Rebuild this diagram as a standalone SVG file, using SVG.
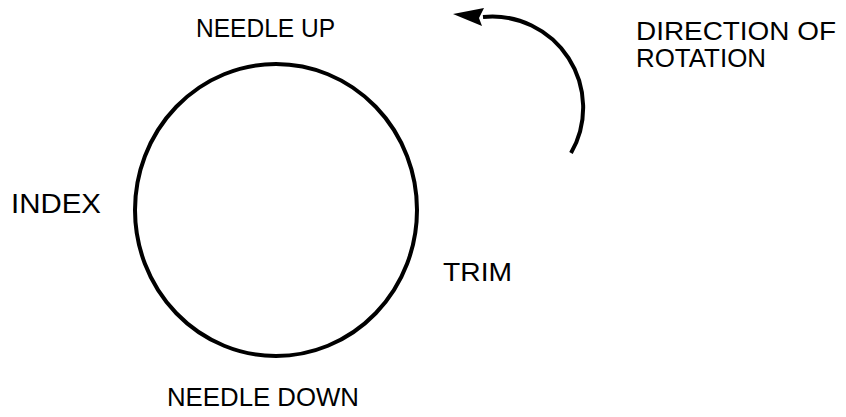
<svg xmlns="http://www.w3.org/2000/svg" width="846" height="417" viewBox="0 0 846 417">
<style>
text{font-family:"Liberation Sans",Arial,sans-serif;font-size:25px;fill:#000}
.ln{fill:none;stroke:#000;stroke-width:4}
</style>
<rect width="846" height="417" fill="#fff"/>
<g id="dial"><ellipse class="ln" cx="276" cy="210" rx="141" ry="146"/></g>
<g id="labels">
<text x="196" y="37" textLength="139" lengthAdjust="spacingAndGlyphs">NEEDLE UP</text>
<text x="636" y="40" textLength="200" lengthAdjust="spacingAndGlyphs">DIRECTION OF</text>
<text x="636" y="67" textLength="130" lengthAdjust="spacingAndGlyphs">ROTATION</text>
<text x="11" y="213" style="font-size:27px" textLength="90" lengthAdjust="spacingAndGlyphs">INDEX</text>
<text x="443" y="281" textLength="69" lengthAdjust="spacingAndGlyphs">TRIM</text>
<text x="167" y="406" textLength="192" lengthAdjust="spacingAndGlyphs">NEEDLE DOWN</text>
</g>
<g id="connectors">
<path class="ln" d="M571 153 A91 91 0 0 0 483 17"/>
<polygon points="453,14 484,8 479,18 482,26" fill="#000"/>
</g>
</svg>
